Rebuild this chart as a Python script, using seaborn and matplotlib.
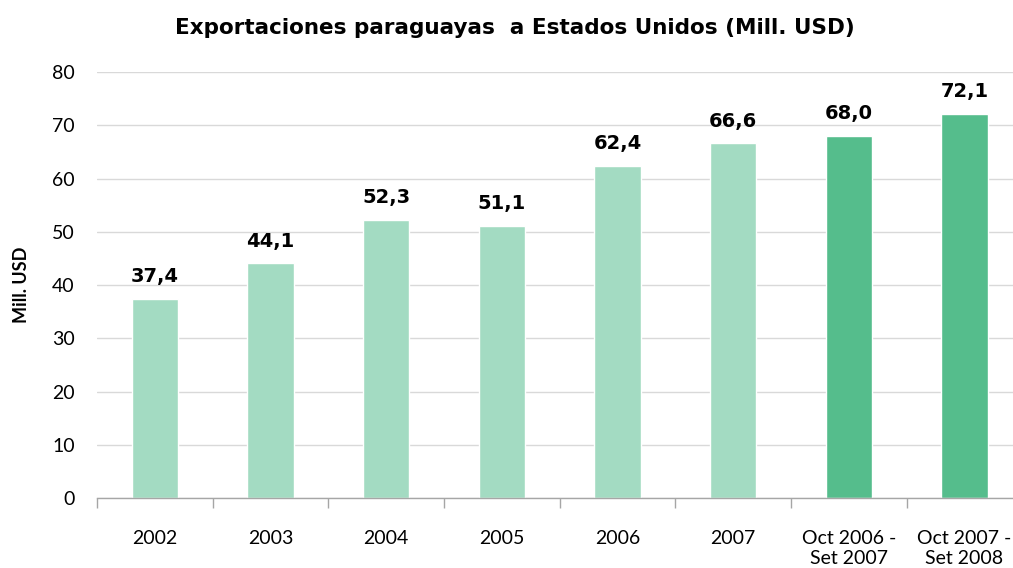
import numpy as np
import pandas as pd
import seaborn as sns
import matplotlib.pyplot as plt
from matplotlib.ticker import FixedLocator

periodos = ['2002', '2003', '2004', '2005', '2006', '2007',
            'Oct 2006 -\nSet 2007', 'Oct 2007 -\nSet 2008']
valores = [37.4, 44.1, 52.3, 51.1, 62.4, 66.6, 68.0, 72.1]
etiquetas = ['37,4', '44,1', '52,3', '51,1', '62,4', '66,6', '68,0', '72,1']

light = '#A3DBC2'
dark = '#55BD8C'
colores = [light] * 6 + [dark] * 2

sns.set_theme(style='white')
plt.rcParams['font.family'] = ['Lato', 'DejaVu Sans']
plt.rcParams['text.color'] = 'black'

df = pd.DataFrame({'periodo': periodos, 'valor': valores})

fig = plt.figure(figsize=(10.13, 5.68), dpi=100)
ax = fig.add_axes([0.0958, 0.123, 0.9042, 0.750])

sns.barplot(data=df, x='periodo', y='valor', hue='periodo', palette=colores,
            legend=False, width=0.4, saturation=1, ax=ax)

ax.set_ylim(0, 80)
ax.set_xlim(-0.5, 7.42)
ax.set_yticks(range(0, 81, 10))
ax.yaxis.grid(True, color='#d9d9d9', linewidth=1)
ax.set_axisbelow(True)
for s in ['top', 'right', 'left']:
    ax.spines[s].set_visible(False)
ax.spines['bottom'].set_color('#a6a6a6')
ax.spines['bottom'].set_linewidth(1)

# category separator ticks
ax.xaxis.set_minor_locator(FixedLocator(np.arange(-0.5, 8, 1)))
ax.tick_params(axis='x', which='minor', bottom=True, length=7, color='#a6a6a6', width=1)
ax.tick_params(axis='x', which='major', bottom=False, labelsize=14, pad=17, colors='black')
ax.tick_params(axis='y', left=False, labelsize=14, pad=10, colors='black')
for lbl in ax.get_xticklabels():
    lbl.set_linespacing(1.2)

for i, (v, t) in enumerate(zip(valores, etiquetas)):
    ax.text(i, v + 2.4, t, ha='center', va='bottom', fontsize=14,
            fontweight='bold', family='DejaVu Sans', color='black')

ax.set_xlabel('')
ax.set_ylabel('Mill. USD', fontsize=13, fontweight='bold', color='black')
ax.yaxis.set_label_coords(-0.073, 0.5)
fig.suptitle('Exportaciones paraguayas  a Estados Unidos (Mill. USD)',
             x=0.508, y=0.968, fontsize=15.5, fontweight='bold',
             family='DejaVu Sans', color='black')

plt.savefig('out.png', dpi=100)
plt.close()
